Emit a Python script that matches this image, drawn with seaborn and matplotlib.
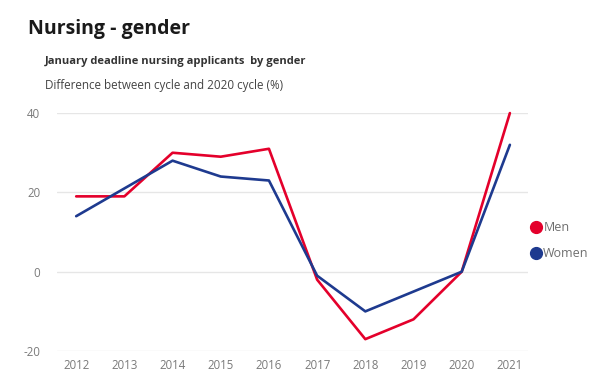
import pandas as pd
import matplotlib.pyplot as plt
import seaborn as sns

years = [2012, 2013, 2014, 2015, 2016, 2017, 2018, 2019, 2020, 2021]
men = [19, 19, 30, 29, 31, -2, -17, -12, 0, 40]
women = [14, 21, 28, 24, 23, -1, -10, -5, 0, 32]
series_names = ['Men', 'Women']
colors = {'Men': '#E4002B', 'Women': '#1E3A8F'}

df = pd.DataFrame({'year': years * 2,
                   'value': men + women,
                   'gender': ['Men'] * len(years) + ['Women'] * len(years)})

sns.set_style('white')
plt.rcParams['font.family'] = ['Open Sans', 'DejaVu Sans']
plt.rcParams['axes.unicode_minus'] = False

fig = plt.figure(figsize=(5.99, 3.82), dpi=100)
ax = fig.add_axes([0.095, 0.081, 0.786, 0.623])

sns.lineplot(data=df, x='year', y='value', hue='gender', palette=colors,
             hue_order=series_names, linewidth=1.9, ax=ax, legend=False, clip_on=False)

ax.set_xlim(2011.6, 2021.37)
ax.set_ylim(-20, 40)
ax.set_xticks(years)
ax.set_yticks([-20, 0, 20, 40])
ax.grid(axis='y', color='#e6e6e6', linewidth=1)
ax.set_axisbelow(True)
for s in ax.spines.values():
    s.set_visible(False)
ax.tick_params(axis='both', length=0, labelsize=8.3, labelcolor='#7a7a7a', pad=6)
ax.tick_params(axis='y', pad=12)
ax.set_xlabel('')
ax.set_ylabel('')

# titulos
fig.text(0.047, 0.925, 'Nursing - gender', fontsize=14, fontweight='bold', color='#1a1a1a', va='center')
fig.text(0.075, 0.838, 'January deadline nursing applicants  by gender', fontsize=8,
         fontweight='bold', color='#333333', va='center')
fig.text(0.075, 0.775, 'Difference between cycle and 2020 cycle (%)', fontsize=8.4,
         color='#444444', va='center')

# leyenda
for i, name in enumerate(series_names):
    yy = 0.405 - i * 0.068
    fig.lines.append(plt.Line2D([0.894], [yy], marker='o', markersize=8.5, color=colors[name],
                                transform=fig.transFigure, linestyle=''))
    fig.text(0.907, yy, name, fontsize=9, color='#6f6f6f', va='center')

plt.savefig('out.png', dpi=100)
